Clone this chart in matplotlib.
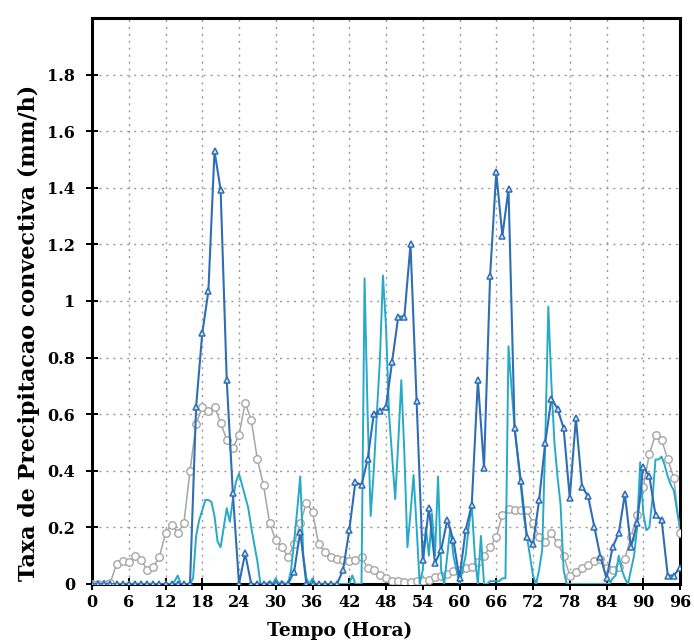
import numpy as np
import matplotlib
matplotlib.use("Agg")
import matplotlib.pyplot as plt

# ---------------- data ----------------
hours = np.arange(0, 97)  # hourly series

blue_vals = [
    0, 0, 0, 0, 0, 0, 0, 0, 0, 0, 0, 0,                                  # 0-11
    0, 0, 0, 0, 0, 0.627, 0.886, 1.034, 1.53, 1.393, 0.72, 0.32,          # 12-23
    0.0, 0.108, 0, 0, 0, 0, 0, 0, 0, 0.044, 0.185, 0,                     # 24-35
    0, 0, 0, 0, 0, 0.05, 0.19, 0.36, 0.35, 0.44, 0.60, 0.61,              # 36-47
    0.627, 0.786, 0.945, 0.945, 1.20, 0.645, 0.085, 0.268, 0.074, 0.12, 0.226, 0.155,  # 48-59
    0.02, 0.19, 0.28, 0.72, 0.41, 1.09, 1.455, 1.23, 1.395, 0.55, 0.365, 0.167,         # 60-71
    0.14, 0.297, 0.50, 0.655, 0.62, 0.55, 0.305, 0.585, 0.344, 0.31, 0.203, 0.097,      # 72-83
    0.02, 0.13, 0.18, 0.318, 0.13, 0.215, 0.415, 0.38, 0.244, 0.226, 0.03, 0.03,        # 84-95
    0.058,                                                                               # 96
]

gray_vals = [
    0, 0, 0, 0.005, 0.07, 0.082, 0.077, 0.099, 0.085, 0.05, 0.06, 0.095,                 # 0-11
    0.18, 0.21, 0.18, 0.215, 0.40, 0.565, 0.627, 0.61, 0.627, 0.57, 0.51, 0.48,          # 12-23
    0.527, 0.64, 0.58, 0.44, 0.35, 0.215, 0.155, 0.13, 0.097, 0.14, 0.215, 0.285,        # 24-35
    0.256, 0.14, 0.114, 0.097, 0.087, 0.085, 0.083, 0.085, 0.097, 0.055, 0.05, 0.032,    # 36-47
    0.02, 0.01, 0.01, 0.008, 0.008, 0.01, 0.012, 0.015, 0.026, 0.03, 0.035, 0.045,       # 48-59
    0.05, 0.055, 0.061, 0.079, 0.10, 0.13, 0.167, 0.244, 0.264, 0.26, 0.26, 0.26,        # 60-71
    0.215, 0.167, 0.15, 0.18, 0.145, 0.10, 0.03, 0.044, 0.055, 0.067, 0.08, 0.09,        # 72-83
    0.055, 0.05, 0.06, 0.09, 0.167, 0.244, 0.344, 0.46, 0.527, 0.51, 0.44, 0.375,        # 84-95
    0.18,                                                                                # 96
]

half_hours = np.arange(0, 96.5, 0.5)  # half-hourly series
cyan_vals = [
    0, 0, 0, 0, 0, 0, 0, 0, 0, 0, 0, 0,                                         # 0-5.5
    0, 0, 0, 0, 0, 0, 0, 0, 0, 0, 0, 0,                                         # 6-11.5
    0, 0, 0, 0.01, 0.03, 0, 0, 0, 0, 0.02, 0.17, 0.226,                         # 12-17.5
    0.26, 0.297, 0.297, 0.29, 0.24, 0.15, 0.13, 0.2, 0.268, 0.22, 0.30, 0.36,   # 18-23.5
    0.39, 0.35, 0.31, 0.27, 0.2, 0.14, 0.08, 0, 0, 0, 0.01, 0,                  # 24-29.5
    0.02, 0, 0.01, 0, 0, 0.05, 0.15, 0.26, 0.38, 0.1, 0.02, 0,                  # 30-35.5
    0.02, 0, 0, 0, 0, 0, 0, 0, 0, 0, 0, 0,                                      # 36-41.5
    0, 0.03, 0, 0, 0, 1.08, 0.6, 0.24, 0.4, 0.6, 0.79, 1.09,                    # 42-47.5
    0.91, 0.6, 0.45, 0.3, 0.5, 0.72, 0.46, 0.13, 0.25, 0.385, 0.2, 0,           # 48-53.5
    0.05, 0.2, 0.1, 0.25, 0.1, 0.38, 0.05, 0, 0.1, 0.2, 0.1, 0.05,              # 54-59.5
    0, 0.05, 0.1, 0.2, 0.28, 0.1, 0, 0.17, 0, 0, 0.01, 0.01,                    # 60-65.5
    0.01, 0.01, 0.02, 0.02, 0.84, 0.69, 0.55, 0.45, 0.35, 0.24, 0.17, 0.1,      # 66-71.5
    0.03, 0, 0.05, 0.12, 0.5, 0.98, 0.71, 0.5, 0.38, 0.28, 0.05, 0,             # 72-77.5
    0, 0, 0, 0, 0, 0, 0, 0, 0, 0, 0, 0,                                         # 78-83.5
    0, 0, 0.02, 0.03, 0.1, 0.05, 0.02, 0, 0.05, 0.1, 0.2, 0.43,                 # 84-89.5
    0.25, 0.19, 0.2, 0.3, 0.44, 0.44, 0.45, 0.42, 0.38, 0.35, 0.33, 0.26,       # 90-95.5
    0.2,                                                                        # 96
]

x_ticks = list(range(0, 97, 6))
y_ticks = [0, 0.2, 0.4, 0.6, 0.8, 1.0, 1.2, 1.4, 1.6, 1.8]
y_tick_labels = ["0", "0.2", "0.4", "0.6", "0.8", "1", "1.2", "1.4", "1.6", "1.8"]
x_label = "Tempo (Hora)"
y_label = "Taxa de Precipitacao convectiva (mm/h)"

# ---------------- figure ----------------
W, H = 694, 643
fig = plt.figure(figsize=(W / 100, H / 100), dpi=100)
ax = fig.add_axes([92 / W, 59 / H, 588 / W, 566 / H])

c_blue = "#2f6db5"
c_cyan = "#27a9c8"
c_gray = "#a6a6a6"

ax.plot(hours, gray_vals, color=c_gray, lw=1.1, marker="o", ms=5.4,
        mfc="white", mec=c_gray, mew=1.0, zorder=3)
ax.plot(half_hours, cyan_vals, color=c_cyan, lw=1.4, zorder=4)
ax.plot(hours, blue_vals, color=c_blue, lw=1.5, marker="^", ms=5,
        mfc="#d5e6f5", mec=c_blue, mew=1.1, zorder=5)

ax.set_xlim(0, 96)
ax.set_ylim(0, 2.0)
ax.set_xticks(x_ticks)
ax.set_yticks(y_ticks)
ax.set_yticklabels(y_tick_labels)

for lab in ax.get_xticklabels() + ax.get_yticklabels():
    lab.set_fontfamily("DejaVu Serif")
    lab.set_fontweight("bold")
    lab.set_fontsize(11.5)

ax.tick_params(axis="both", direction="inout", length=8, width=1.4, color="black")
ax.tick_params(axis="y", pad=8)
ax.tick_params(axis="x", pad=3)
ax.grid(True, color="#9a9a9a", linestyle=(0, (1.5, 3.5)), linewidth=1.0)
ax.set_axisbelow(True)
for sp in ax.spines.values():
    sp.set_linewidth(2.2)

fig.text(340 / W, 1 - 631 / H, x_label, ha="center", va="center",
         family="DejaVu Serif", weight="bold", fontsize=13.5)
fig.text(29 / W, 1 - 333 / H, y_label, ha="center", va="center", rotation=90,
         family="DejaVu Serif", weight="bold", fontsize=16)

fig.savefig("out.png", dpi=100)
